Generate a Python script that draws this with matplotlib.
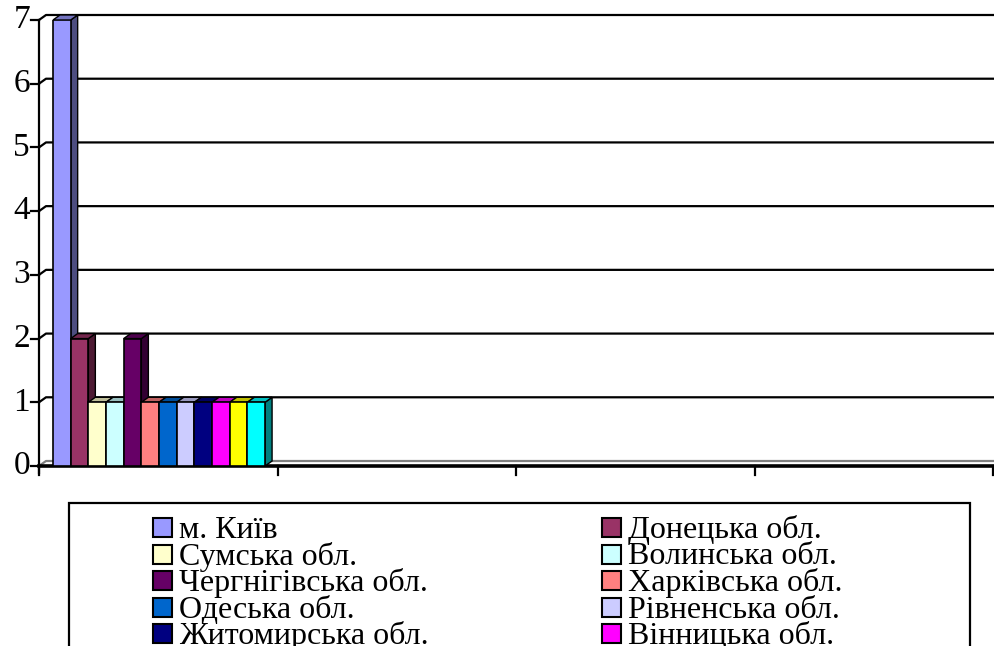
import numpy as np
import matplotlib.pyplot as plt
from matplotlib.patches import Rectangle
from matplotlib.colors import to_rgb

# data: one category, 12 regions (last two are hidden below the legend)
regions = ['м. Київ', 'Донецька обл.', 'Сумська обл.', 'Волинська обл.',
           'Чергнігівська обл.', 'Харківська обл.', 'Одеська обл.', 'Рівненська обл.',
           'Житомирська обл.', 'Вінницька обл.', '', '']
counts = [7, 2, 1, 1, 2, 1, 1, 1, 1, 1, 1, 1]
colors = ['#9999FF', '#993366', '#FFFFCC', '#CCFFFF', '#660066', '#FF8080',
          '#0066CC', '#CCCCFF', '#000080', '#FF00FF', '#FFFF00', '#00FFFF']
yticks = [0, 1, 2, 3, 4, 5, 6, 7]
n_cat = 4

W, H = 995, 646
fig = plt.figure(figsize=(W/100, H/100), dpi=100)

def fx(px):
    return px/W
def fy(py):
    return 1 - py/H

# axes placed so x=0..4 spans the category axis and y=0..7 the value axis
ax = fig.add_axes([fx(39), fy(466), (993-39)/W, (466-20)/H])
ax.set_xlim(0, n_cat)
ax.set_ylim(0, 7)
ax.axis('off')

sx = (993-39)/n_cat      # px per x unit
sy = (466-20)/7          # px per y unit
DX = 7/sx                # 3d depth offset
DY = 5/sy

serif = 'Liberation Serif'

# back wall gridlines + ticks
for v in yticks:
    col = 'black' if v > 0 else '#808080'
    ax.plot([0, DX, n_cat + 0.1], [v, v + DY, v + DY], color=col, lw=1.6,
            clip_on=False, zorder=1, solid_capstyle='butt')
    ax.plot([-8/sx, 0], [v, v], color='black', lw=1.6, clip_on=False, zorder=1)
    ax.text(-9/sx, v, str(v), ha='right', va='center', fontsize=24,
            family=serif, clip_on=False)

# floor front edge and value axis
ax.plot([0, n_cat + 0.1], [0, 0], color='black', lw=2.6, clip_on=False, zorder=5)
ax.plot([0, 0], [-7/sy, 7], color='black', lw=1.6, clip_on=False, zorder=5)
for c in range(n_cat + 1):
    ax.plot([c, c], [0, -9/sy], color='black', lw=1.6, clip_on=False, zorder=5)

# 3d-looking bars in the first category
bw = 0.0741
x0 = 14/sx
for i, (v, c) in enumerate(zip(counts, colors)):
    left = x0 + i*bw
    rgb = np.array(to_rgb(c))
    z = 10 + i
    ax.bar(left, v, width=bw, align='edge', color=c, edgecolor='black',
           linewidth=1.2, zorder=z + 0.5)
    side = [(left + bw, 0), (left + bw + DX, DY), (left + bw + DX, v + DY), (left + bw, v)]
    top = [(left, v), (left + DX, v + DY), (left + bw + DX, v + DY), (left + bw, v)]
    ax.fill(*zip(*side), color=rgb*0.5, ec='black', lw=1.0, zorder=z, clip_on=False)
    ax.fill(*zip(*top), color=rgb*0.75, ec='black', lw=1.0, zorder=z, clip_on=False)

# legend box (Excel style, 2 columns, cut by the bottom edge)
fig.add_artist(Rectangle((fx(69), fy(680)), (970-69)/W, (680-503)/H,
                         transform=fig.transFigure, fill=False, ec='black', lw=1.6))
col_x = [153, 602]
row_y0 = 527.5
row_dy = 26.5
for i, (name, c) in enumerate(zip(regions, colors)):
    r, k = divmod(i, 2)
    cy = row_y0 + r*row_dy
    mx = col_x[k]
    fig.add_artist(Rectangle((fx(mx), fy(cy + 9.5)), 19/W, 19/H,
                             transform=fig.transFigure, fc=c, ec='black', lw=1.5))
    fig.text(fx(mx + 26), fy(cy + 10.5), name, ha='left', va='baseline',
             fontsize=23, family=serif)

plt.savefig('out.png', dpi=100)
